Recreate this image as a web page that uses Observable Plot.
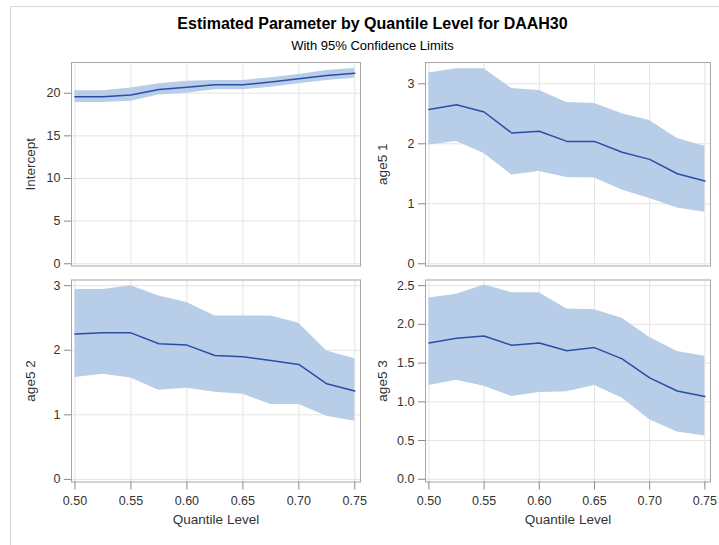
<!DOCTYPE html>
<html>
<head>
<meta charset="utf-8">
<script src="https://cdn.jsdelivr.net/npm/d3@7"></script>
<script src="https://cdn.jsdelivr.net/npm/@observablehq/plot@0.6"></script>
<style>
  html, body { margin: 0; padding: 0; background: #fff; }
  #page { position: relative; width: 719px; height: 545px; overflow: hidden; font-family: "Liberation Sans", Arial, sans-serif; }
  #border { position: absolute; left: 10px; top: 6px; width: 800px; height: 600px; border-top: 1px solid #d9d9d9; border-left: 1px solid #d9d9d9; }
  .title { position: absolute; left: 0; width: 745px; text-align: center; color: #000; }
  svg.panel { position: absolute; overflow: visible; }
  svg.panel g[aria-label$="tick label"] { font-size: 12.5px; }
  svg.panel g[aria-label$="axis label"] { font-size: 13.5px; }
</style>
</head>
<body>
<div id="page">
  <div id="border"></div>
  <div class="title" style="top:15px;font-size:16px;font-weight:bold;">Estimated Parameter by Quantile Level for DAAH30</div>
  <div class="title" style="top:38px;font-size:13px;">With 95% Confidence Limits</div>
</div>
<script>
// ---- data ----
const quantiles = [0.5, 0.525, 0.55, 0.575, 0.6, 0.625, 0.65, 0.675, 0.7, 0.725, 0.75];
const xTicks = [0.5, 0.55, 0.6, 0.65, 0.7, 0.75];

const interceptEst   = [19.57, 19.57, 19.8, 20.43, 20.7, 20.98, 20.98, 21.3, 21.7, 22.07, 22.34];
const interceptLower = [18.9, 18.9, 19.05, 19.8, 20.0, 20.4, 20.4, 20.7, 21.1, 21.5, 21.75];
const interceptUpper = [20.3, 20.3, 20.6, 21.1, 21.4, 21.5, 21.5, 21.8, 22.2, 22.65, 22.9];
const interceptTicks = [0, 5, 10, 15, 20];

const age51Est   = [2.57, 2.65, 2.53, 2.18, 2.21, 2.04, 2.04, 1.86, 1.74, 1.50, 1.38];
const age51Upper = [3.18, 3.25, 3.25, 2.92, 2.89, 2.69, 2.67, 2.50, 2.39, 2.09, 1.96];
const age51Lower = [1.98, 2.04, 1.84, 1.48, 1.54, 1.44, 1.43, 1.23, 1.09, 0.93, 0.86];
const age51Ticks = [0, 1, 2, 3];

const age52Est   = [2.25, 2.27, 2.27, 2.10, 2.08, 1.92, 1.90, 1.84, 1.78, 1.48, 1.37];
const age52Upper = [2.94, 2.94, 3.00, 2.84, 2.74, 2.53, 2.53, 2.53, 2.42, 1.99, 1.87];
const age52Lower = [1.58, 1.63, 1.57, 1.38, 1.41, 1.35, 1.32, 1.16, 1.16, 0.98, 0.90];
const age52Ticks = [0, 1, 2, 3];

const age53Est   = [1.76, 1.82, 1.85, 1.73, 1.76, 1.66, 1.70, 1.555, 1.31, 1.14, 1.07];
const age53Upper = [2.34, 2.39, 2.51, 2.41, 2.41, 2.20, 2.19, 2.08, 1.83, 1.65, 1.59];
const age53Lower = [1.21, 1.28, 1.20, 1.07, 1.12, 1.13, 1.21, 1.05, 0.77, 0.61, 0.56];
const age53Ticks = [0, 0.5, 1, 1.5, 2, 2.5];

// ---- drawing ----
const bandColor = "#b8cde8";
const lineColor = "#2a4da8";
const gridColor = "#e4e4e4";
const frameColor = "#a6a6a6";

function panel(opts) {
  const {est, lower, upper, label, yTicks, yFormat, yDomain, box, frame, showX, labelOffset} = opts;
  const [left, top, width, height] = box;
  const [fx1, fy1, fx2, fy2] = frame;
  const rows = quantiles.map((q, i) => ({q, est: est[i], lo: lower[i], hi: upper[i]}));
  const marks = [
    Plot.gridX(xTicks, {stroke: gridColor, strokeOpacity: 1}),
    Plot.gridY(yTicks, {stroke: gridColor, strokeOpacity: 1}),
    Plot.areaY(rows, {x: "q", y1: "lo", y2: "hi", fill: bandColor, fillOpacity: 1}),
    Plot.lineY(rows, {x: "q", y: "est", stroke: lineColor, strokeWidth: 1.5}),
    Plot.axisY({ticks: yTicks, tickFormat: yFormat, tickSize: 7, tickPadding: 4, stroke: "#888", fill: "#333",
      label, labelAnchor: "center", labelArrow: "none", labelOffset}),
    Plot.frame({stroke: frameColor})
  ];
  if (showX) {
    marks.push(Plot.axisX({ticks: xTicks, tickFormat: d3.format(".2f"), tickSize: 8, tickPadding: 6, stroke: "#888", fill: "#333",
      label: "Quantile Level", labelAnchor: "center", labelArrow: "none", labelOffset: 42}));
  }
  const plot = Plot.plot({
    width, height,
    marginLeft: fx1 - left, marginRight: left + width - fx2,
    marginTop: fy1 - top, marginBottom: top + height - fy2,
    x: {domain: [0.4969, 0.7551], axis: null},
    y: {domain: yDomain, axis: null},
    style: {fontFamily: "'Liberation Sans', Arial, sans-serif", fontSize: "12px", color: "#333", background: "transparent", overflow: "visible"},
    marks
  });
  plot.classList.add("panel");
  plot.style.left = left + "px";
  plot.style.top = top + "px";
  document.getElementById("page").appendChild(plot);
}

panel({est: interceptEst, lower: interceptLower, upper: interceptUpper, label: "Intercept",
  yTicks: interceptTicks, yFormat: d3.format("d"), yDomain: [-0.26, 23.6],
  box: [12, 55, 353, 215], frame: [71, 62, 360, 265.5], showX: false, labelOffset: 46});
panel({est: age51Est, lower: age51Lower, upper: age51Upper, label: "age5 1",
  yTicks: age51Ticks, yFormat: d3.format("d"), yDomain: [-0.037, 3.355],
  box: [366, 55, 353, 215], frame: [425, 62, 710, 265.5], showX: false, labelOffset: 48});
panel({est: age52Est, lower: age52Lower, upper: age52Upper, label: "age5 2",
  yTicks: age52Ticks, yFormat: d3.format("d"), yDomain: [-0.04, 3.088],
  box: [12, 272, 353, 270], frame: [71, 279.5, 360, 481.5], showX: true, labelOffset: 46});
panel({est: age53Est, lower: age53Lower, upper: age53Upper, label: "age5 3",
  yTicks: age53Ticks, yFormat: d3.format(".1f"), yDomain: [-0.035, 2.573],
  box: [366, 272, 353, 270], frame: [425, 279.5, 710, 481.5], showX: true, labelOffset: 48});
</script>
</body>
</html>
